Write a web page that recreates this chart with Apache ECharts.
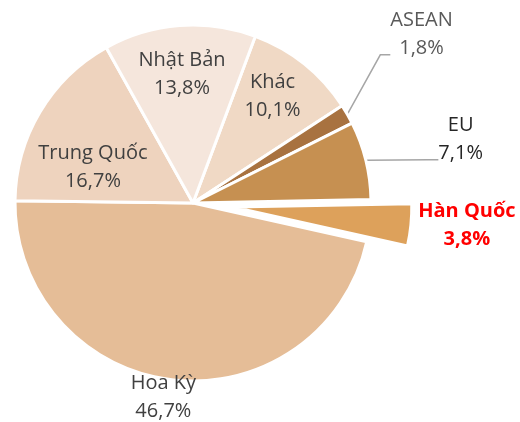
<!DOCTYPE html>
<html>
<head>
<meta charset="utf-8">
<script src="https://cdn.jsdelivr.net/npm/echarts@6/dist/echarts.min.js"></script>
</head>
<body style="margin:0;background:#fff;">
<div id="chart" style="width:520px;height:422px;"></div>
<script>
    // slices clockwise, starting at the Khác / Nhật Bản edge
    let categories = ['Khác', 'ASEAN', 'EU', 'Hàn Quốc', 'Hoa Kỳ', 'Trung Quốc', 'Nhật Bản'];
    let shares = [10.1, 1.8, 7.1, 3.8, 46.7, 16.7, 13.8];
    let sliceColors = ['#F0D9C5', '#A87240', '#C69051', '#DDA15B', '#E5BD97', '#EED3BE', '#F5E6DC'];
    let pulledOut = 'Hàn Quốc';
    let withLeader = ['ASEAN', 'EU'];

    // nudges from the default label spot, px
    let labelShift = {
        'Khác': [22, -35],
        'Nhật Bản': [-4, -37],
        'Trung Quốc': [-21, 11],
        'Hoa Kỳ': [-19, 103],
        'ASEAN': [15, -52],
        'EU': [43, 3]
    };
    let labelColor = {'ASEAN': '#595959', 'EU': '#262626'};

    function pct(v) {
        return v.toFixed(1).replace('.', ',') + '%';
    }

    let chart = echarts.init(document.getElementById('chart'));

    let data = categories.map(function (name, i) {
        let item = {
            name: name,
            value: shares[i],
            itemStyle: {color: sliceColors[i]},
            label: {color: labelColor[name] || '#404040'}
        };
        if (name === pulledOut) {
            item.selected = true;
            item.label = {
                position: 'outside',
                distanceToLabelLine: 6,
                color: '#FF0000',
                fontWeight: 'bold',
                formatter: function (p) {
                    return '{h|' + p.name + '}\n{h|' + pct(p.value) + '}';
                }
            };
            item.labelLine = {show: false, length: 0, length2: 0};
        }
        if (withLeader.indexOf(name) >= 0) {
            item.label.position = 'outside';
            // empty tail line so the leader meets the label under the value
            item.label.formatter = function (p) {
                return p.name + '\n' + pct(p.value) + '\n{g| }';
            };
            item.labelLine = {show: true, length: 15, length2: 10};
        }
        return item;
    });

    let option = {
        animation: false,
        series: [{
            type: 'pie',
            center: [193, 203],
            radius: 178,
            startAngle: 69.5,
            clockwise: true,
            avoidLabelOverlap: false,
            selectedMode: 'single',
            selectedOffset: 41,
            itemStyle: {borderColor: '#fff', borderWidth: 3},
            select: {itemStyle: {borderColor: '#fff', borderWidth: 3}},
            emphasis: {disabled: true},
            label: {
                show: true,
                position: 'inside',
                fontFamily: 'Open Sans',
                fontSize: 20,
                lineHeight: 28,
                formatter: function (p) {
                    return p.name + '\n' + pct(p.value);
                },
                rich: {
                    g: {fontSize: 10, lineHeight: 40},
                    h: {
                        width: 100, align: 'center', fontFamily: 'Open Sans', fontSize: 20,
                        lineHeight: 28, fontWeight: 'bold', color: '#FF0000'
                    }
                }
            },
            labelLine: {
                show: false,
                lineStyle: {color: '#A6A6A6', width: 1.5}
            },
            labelLayout: function (params) {
                let shift = labelShift[categories[params.dataIndex]];
                if (!shift) {
                    return {};
                }
                let r = params.labelRect;
                return {
                    x: r.x + r.width / 2 + shift[0],
                    y: r.y + r.height / 2 + shift[1],
                    align: 'center',
                    verticalAlign: 'middle'
                };
            },
            data: data
        }]
    };

    chart.setOption(option);
</script>
</body>
</html>
